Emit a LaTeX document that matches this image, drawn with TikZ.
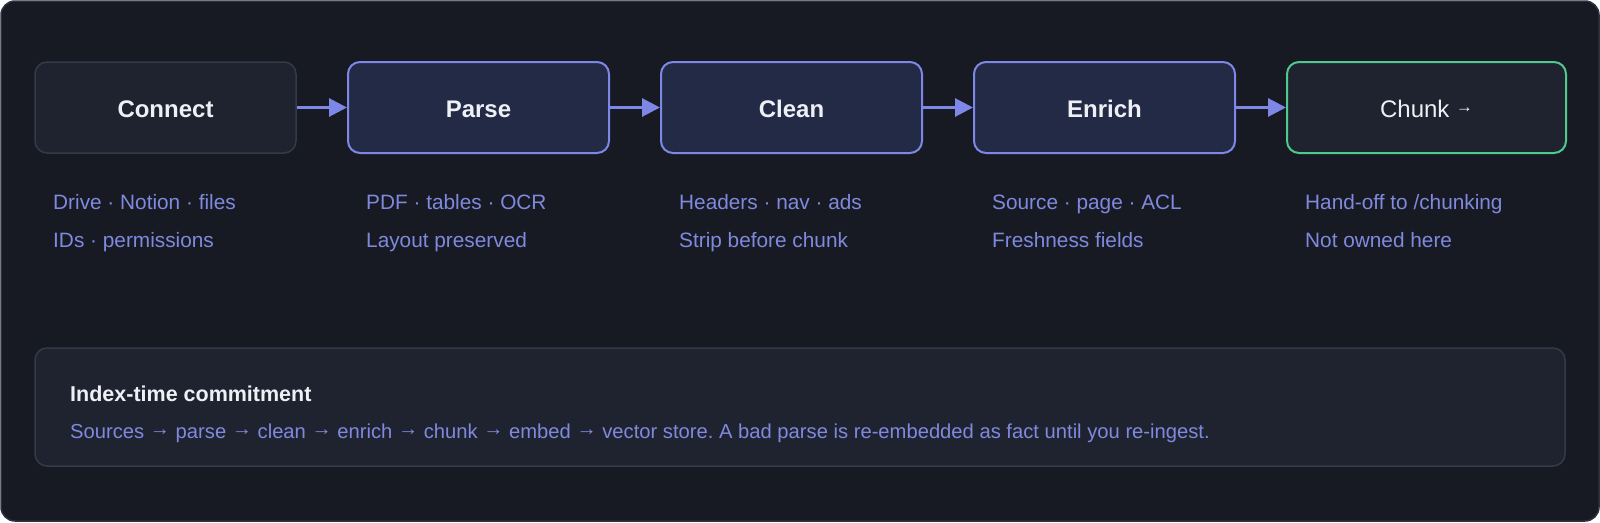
\documentclass[tikz,border=0pt]{standalone}
\usepackage{fontspec}
\setmainfont{Liberation Sans}
\usetikzlibrary{arrows.meta}
\frenchspacing
\newcommand{\rarr}{\raisebox{0.12em}{→}}
\newcommand{\smallrarr}{\raisebox{0.22em}{\scalebox{0.7}{→}}}
\definecolor{bg}{HTML}{171A23}
\definecolor{frame}{HTML}{2E323D}
\definecolor{boxfill}{HTML}{1F2330}
\definecolor{boxline}{HTML}{353A47}
\definecolor{navy}{HTML}{222A45}
\definecolor{peri}{HTML}{7D88E6}
\definecolor{green}{HTML}{4FC98D}
\definecolor{subtxt}{HTML}{7F89DE}
\definecolor{titletxt}{HTML}{EEF0F5}
\tikzset{
  x=1pt, y=-1pt,
  stagebase/.style={rounded corners=12pt, minimum height=91pt, text=titletxt, inner sep=0pt,
    font=\fontsize{24}{28}\selectfont, text height=20pt, text depth=0pt},
  plainstage/.style={stagebase, fill=boxfill, draw=boxline, line width=1.5pt, minimum width=261pt, font=\fontsize{24}{28}\selectfont\bfseries},
  activestage/.style={stagebase, fill=navy, draw=peri, line width=2pt, minimum width=261pt, font=\fontsize{24}{28}\selectfont\bfseries},
  handoffstage/.style={stagebase, fill=boxfill, draw=green, line width=2pt, minimum width=279pt},
  subline/.style={anchor=base west, inner sep=0pt, text=subtxt, font=\fontsize{20.8}{25}\selectfont},
  flow/.style={draw=peri, line width=3pt, -{Triangle[length=18pt, width=18pt]}},
}
\begin{document}
\begin{tikzpicture}
\useasboundingbox (0,0) rectangle (1600,522);
\draw[rounded corners=14pt, fill=bg, draw=frame, line width=1.5pt] (1,1) rectangle (1599,521);

\node[plainstage] (connect) at (165.5,107.5) {Connect};
\node[activestage] (parse) at (478.5,107.5) {Parse};
\node[activestage] (clean) at (791.5,107.5) {Clean};
\node[activestage] (enrich) at (1104.5,107.5) {Enrich};
\node[handoffstage] (chunk) at (1426.5,107.5) {Chunk \smallrarr};

\draw[flow] (connect.east) -- (parse.west);
\draw[flow] (parse.east) -- (clean.west);
\draw[flow] (clean.east) -- (enrich.west);
\draw[flow] (enrich.east) -- (chunk.west);

\node[subline] (c1) at (53,209) {Drive · Notion · files};
\node[subline] (c2) at (53,247) {IDs · permissions};
\node[subline] (p1) at (366,209) {PDF · tables · OCR};
\node[subline] (p2) at (366,247) {Layout preserved};
\node[subline] (l1) at (679,209) {Headers · nav · ads};
\node[subline] (l2) at (679,247) {Strip before chunk};
\node[subline] (e1) at (992,209) {Source · page · ACL};
\node[subline] (e2) at (992,247) {Freshness fields};
\node[subline] (h1) at (1305,209) {Hand-off to /chunking};
\node[subline] (h2) at (1305,247) {Not owned here};

\draw[rounded corners=12pt, fill=boxfill, draw=boxline, line width=1.5pt] (35,348) rectangle (1565,466);
\node[anchor=base west, inner sep=0pt, text=titletxt, font=\fontsize{21.5}{26}\selectfont\bfseries] (ctitle) at (70,401) {Index-time commitment};
\node[anchor=base west, inner sep=0pt, text=subtxt, font=\fontsize{20.2}{25}\selectfont] (cbody) at (70,438) {Sources \rarr{} parse \rarr{} clean \rarr{} enrich \rarr{} chunk \rarr{} embed \rarr{} vector store. A bad parse is re-embedded as fact until you re-ingest.};
\end{tikzpicture}
\end{document}
